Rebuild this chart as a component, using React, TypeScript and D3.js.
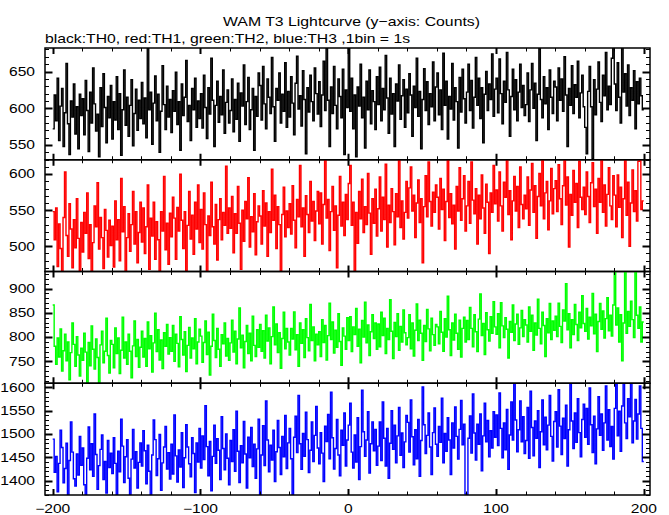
import React from 'react';
import * as d3 from 'd3';

// WAM T3 lightcurves, 1 s bins starting at t = -200 s
const binStart = -200;

const th0 = [
572,618,583,641,556,603,627,548,594,661,579,537,610,588,633,565,602,545,619,590,
613,564,638,597,541,622,580,655,606,569,592,534,628,575,647,601,553,616,587,631,
558,609,584,643,571,620,536,598,652,577,615,562,604,639,549,593,626,570,611,586,
635,579,614,560,682,598,622,551,607,644,583,619,540,596,658,605,571,630,588,612,
567,624,596,649,578,609,543,633,590,615,665,582,604,556,627,598,641,574,610,586,
620,573,645,601,559,628,592,668,611,548,604,637,581,616,591,652,566,608,625,580,
597,640,568,612,585,634,555,621,603,659,578,609,642,571,598,627,543,616,589,648,
631,584,657,606,572,640,615,593,669,602,555,627,611,648,580,619,596,662,574,623,
588,643,607,564,634,671,599,617,576,651,612,538,628,595,645,609,583,655,620,592,
636,575,618,664,597,682,611,548,629,593,657,604,572,640,616,587,653,537,625,601,
690,596,641,572,618,534,629,603,660,587,615,546,637,598,652,579,624,609,571,643,
605,656,583,627,598,672,614,566,641,592,620,548,633,610,659,585,617,639,574,626,
594,647,618,562,630,601,668,589,623,545,612,654,597,636,578,620,602,663,583,629,
648,591,625,571,675,604,637,558,616,599,661,584,628,609,546,642,595,653,613,580,
622,660,597,638,573,615,669,604,641,586,628,553,619,650,597,633,612,674,589,626,
641,594,667,620,579,637,608,676,625,562,616,653,598,639,583,622,660,601,631,590,
605,648,582,625,661,600,634,556,619,681,612,587,643,606,628,571,652,615,593,637,
629,583,655,611,640,596,670,618,548,627,604,658,593,632,615,664,587,621,645,602,
574,538,623,657,602,531,639,591,626,663,608,582,645,617,676,598,630,605,668,684,
633,597,662,615,580,688,622,647,603,659,590,628,611,651,572,636,606,641,617,598
];

const th1 = [
548,509,553,472,531,497,462,540,603,515,486,559,524,470,537,498,566,511,458,533,
492,547,518,574,483,530,461,505,556,527,588,496,540,512,469,551,522,485,536,501,
528,471,563,509,537,480,594,520,555,464,512,545,493,530,576,503,548,477,519,561,
506,553,490,527,585,468,539,514,561,482,534,509,457,548,521,597,495,532,475,546,
513,568,539,482,554,521,600,536,497,548,466,529,576,510,543,489,561,524,585,505,
551,496,574,530,460,542,515,589,527,503,558,481,537,566,509,547,529,611,518,553,
525,569,491,545,518,583,532,468,550,507,562,538,595,499,541,520,573,488,534,556,
542,503,577,528,560,486,548,519,607,536,571,497,555,530,465,544,582,513,549,526,
559,517,584,536,498,565,541,612,527,553,486,570,544,519,590,535,562,508,549,576,
531,574,503,558,620,539,565,494,548,583,522,556,470,543,597,528,561,515,572,537,
587,612,529,561,461,547,504,576,538,593,519,555,530,601,546,489,566,532,579,514,
552,596,521,568,537,614,499,557,533,580,548,502,573,541,619,526,563,510,547,590,
539,581,610,549,571,512,560,592,533,566,477,555,598,541,617,562,528,575,547,585,
568,524,594,551,579,508,562,620,540,573,531,557,496,583,549,609,536,566,598,521,
556,590,532,617,564,545,580,503,571,538,599,553,518,586,561,490,574,547,612,559,
578,535,603,556,521,589,568,622,544,577,509,563,597,549,583,526,610,558,538,571,
552,596,529,578,615,547,584,511,569,601,556,620,538,574,590,523,563,608,545,580,
591,548,613,566,530,584,620,557,596,499,572,543,605,561,587,526,618,568,551,582,
544,603,569,533,588,616,555,579,518,594,561,621,547,585,528,572,609,556,537,598,
571,527,599,554,582,512,566,620,543,589,500,560,606,548,577,535,618,625,551,563
];

const th2 = [
866,781,744,798,759,817,730,772,806,751,790,712,768,829,785,740,801,763,720,777,
752,808,769,703,789,741,823,775,734,796,758,705,784,812,747,771,839,762,726,793,
785,737,819,766,798,725,773,841,757,790,744,806,771,716,782,833,760,795,738,779,
812,759,797,740,831,776,803,728,788,849,770,815,753,794,735,809,781,826,765,799,
771,824,750,806,787,739,842,795,763,811,729,783,820,757,798,776,838,745,790,816,
802,748,789,833,764,810,722,781,847,793,758,818,775,740,805,786,829,761,797,752,
788,835,769,812,745,796,860,778,804,737,791,824,766,808,751,843,783,760,815,779,
826,771,813,757,845,792,819,745,801,862,784,827,768,809,736,797,851,776,818,790,
763,818,796,852,774,805,740,829,787,815,758,838,799,772,867,793,821,751,806,784,
811,760,836,789,824,753,803,870,795,831,767,814,779,848,791,742,819,802,775,840,
793,842,770,821,805,859,781,816,747,834,800,872,788,825,762,811,846,797,829,775,
827,780,851,803,839,766,818,795,877,812,756,830,801,848,773,822,790,856,809,784,
799,846,776,829,761,814,868,793,835,808,752,824,791,857,817,772,839,805,783,826,
821,786,853,810,771,838,800,884,815,762,829,794,847,808,775,835,759,818,841,790,
834,795,861,818,780,846,811,770,837,889,803,828,764,850,815,792,842,808,873,821,
806,848,778,871,823,799,840,816,757,832,810,866,793,827,847,785,819,855,801,836,
825,790,862,812,845,773,829,804,878,818,786,851,824,760,838,809,869,795,833,814,
843,801,870,822,789,856,833,910,815,848,778,836,805,867,826,793,851,819,885,828,
812,859,796,841,823,890,807,847,770,832,869,816,854,798,838,881,813,845,802,866,
938,825,860,790,846,751,829,940,808,853,822,874,836,799,936,845,818,862,790,831
];

const th3 = [
1489,1418,1452,1376,1437,1508,1471,1395,1426,1480,1366,1443,1526,1461,1404,1388,1457,1412,1495,1433,
1470,1391,1362,1448,1515,1423,1479,1409,1543,1456,1381,1432,1467,1498,1402,1441,1373,1486,1428,1459,
1415,1492,1437,1358,1463,1419,1532,1474,1396,1451,1488,1405,1369,1446,1510,1427,1462,1384,1439,1481,
1431,1507,1464,1393,1476,1420,1369,1455,1530,1488,1411,1447,1499,1379,1438,1472,1516,1425,1460,1403,
1478,1414,1541,1453,1397,1466,1429,1503,1385,1449,1520,1472,1436,1408,1492,1458,1374,1481,1440,1512,
1427,1496,1445,1561,1473,1410,1484,1378,1452,1519,1437,1490,1465,1402,1537,1469,1423,1500,1448,1391,
1486,1441,1509,1420,1549,1463,1396,1475,1438,1527,1457,1384,1493,1449,1514,1430,1478,1405,1468,1532,
1363,1455,1518,1432,1571,1487,1419,1476,1444,1508,1398,1462,1529,1471,1413,1495,1451,1540,1426,1481,
1512,1447,1366,1493,1538,1460,1583,1479,1424,1501,1452,1547,1488,1417,1465,1526,1441,1497,1559,1470,
1436,1503,1459,1398,1517,1484,1542,1447,1590,1492,1425,1469,1531,1455,1410,1508,1476,1545,1431,1487,
1519,1566,1461,1427,1498,1440,1535,1402,1473,1594,1505,1452,1487,1548,1416,1479,1526,1464,1510,1433,
1474,1526,1443,1569,1491,1431,1512,1405,1480,1550,1467,1519,1438,1496,1557,1454,1502,1428,1483,1540,
1525,1461,1573,1494,1434,1509,1447,1531,1409,1486,1601,1520,1458,1497,1545,1472,1413,1503,1556,1478,
1452,1516,1482,1577,1438,1501,1463,1535,1487,1413,1524,1470,1558,1495,1446,1510,1572,1477,1521,1371,
1365,1491,1539,1459,1586,1502,1444,1521,1478,1543,1421,1496,1566,1483,1529,1451,1507,1470,1548,1493,
1541,1475,1588,1512,1449,1524,1466,1553,1424,1498,1569,1487,1611,1530,1462,1509,1571,1483,1537,1458,
1486,1557,1448,1592,1514,1453,1528,1491,1550,1428,1505,1573,1477,1536,1466,1519,1583,1495,1442,1527,
1548,1472,1595,1517,1456,1534,1490,1562,1431,1509,1612,1528,1469,1545,1482,1576,1503,1451,1531,1564,
1493,1555,1478,1599,1520,1460,1538,1436,1511,1580,1497,1543,1465,1524,1603,1487,1552,1473,1516,1446,
1555,1612,1496,1549,1463,1560,1615,1524,1490,1576,1537,1620,1481,1528,1574,1489,1543,1603,1512,1441
];

const seriesColors = ['#000000', '#ff0000', '#00ff00', '#0000ff'];
const xDomain = [-205.2, 204.2];
const xMajorTicks = [-200, -100, 0, 100, 200];
const xTickLabels = ['\u2212200', '\u2212100', '0', '100', '200'];
const yDomains: [number, number][] = [[530, 682], [465, 620], [705, 935], [1369, 1609]];
const yMajorTicks = [[550, 600, 650], [500, 550, 600], [750, 800, 850, 900], [1400, 1450, 1500, 1550, 1600]];
const titleText = 'WAM T3 Lightcurve (y\u2212axis: Counts)';
const subtitleText = 'black:TH0, red:TH1, green:TH2, blue:TH3 ,1bin = 1s';

const W = 669, H = 515;
const left = 45, right = 650, top = 48, bottom = 495;
const FONT = '"Liberation Sans", Arial, Helvetica, sans-serif';

export default function App() {
  const series = [th0, th1, th2, th3];
  const ph = (bottom - top) / 4;
  const x = d3.scaleLinear().domain(xDomain).range([left, right]);
  const xMinor = d3.range(-200, 201, 20);

  return (
    <svg width={W} height={H} style={{ position: 'absolute', left: 0, top: 0, background: '#fff' }}
      xmlns="http://www.w3.org/2000/svg">
      <rect x={0} y={0} width={W} height={H} fill="#fff" />
      <defs>
        {series.map((_, p) => (
          <clipPath id={`clip${p}`} key={p}>
            <rect x={left} y={top + p * ph} width={right - left} height={ph} />
          </clipPath>
        ))}
      </defs>
      <text x={223} y={25.5} fontFamily={FONT} fontSize={13} textLength={257} lengthAdjust="spacingAndGlyphs">{titleText}</text>
      <text x={45} y={43} fontFamily={FONT} fontSize={13} textLength={365} lengthAdjust="spacingAndGlyphs">{subtitleText}</text>
      {series.map((data, p) => {
        const y0 = top + p * ph, y1 = y0 + ph;
        const dom = yDomains[p];
        const y = d3.scaleLinear().domain(dom).range([y1, y0]);
        const pts: [number, number][] = data.map((v, i) => [binStart + i, v] as [number, number]);
        pts.push([binStart + data.length, data[data.length - 1]]);
        const line = d3.line<[number, number]>().x(d => x(d[0])).y(d => y(d[1])).curve(d3.curveStepAfter);
        const yMinor = d3.range(Math.ceil(dom[0] / 10) * 10, dom[1], 10);
        return (
          <g key={p}>
            <path d={line(pts) || ''} fill="none" stroke={seriesColors[p]} strokeWidth={1.4} clipPath={`url(#clip${p})`} />
            {yMinor.map(v => {
              const major = v % 50 === 0;
              const len = major ? 7.5 : 4;
              const yy = Math.round(y(v)) + 0.5;
              return (
                <g key={v}>
                  <line x1={left} x2={left + len} y1={yy} y2={yy} stroke="#000" strokeWidth={major ? 2 : 1} />
                  <line x1={right} x2={right - len} y1={yy} y2={yy} stroke="#000" strokeWidth={major ? 2 : 1} />
                </g>
              );
            })}
            {xMinor.map(v => {
              const major = v % 100 === 0;
              const len = major ? 6 : 3.5;
              const xx = Math.round(x(v)) + 0.5;
              return (
                <g key={v}>
                  <line x1={xx} x2={xx} y1={y0} y2={y0 + len} stroke="#000" strokeWidth={major ? 2 : 1} />
                  <line x1={xx} x2={xx} y1={y1} y2={y1 - len} stroke="#000" strokeWidth={major ? 2 : 1} />
                </g>
              );
            })}
            {yMajorTicks[p].map(v => (
              <text key={v} transform={`translate(35,${y(v) + 4.3}) scale(1.3,1)`} textAnchor="end"
                fontFamily={FONT} fontSize={12}>{String(v)}</text>
            ))}
            <rect x={left} y={y0} width={right - left} height={ph} fill="none" stroke="#000" strokeWidth={1.5} />
          </g>
        );
      })}
      {xMajorTicks.map((v, i) => (
        <text key={v} transform={`translate(${x(v)},513) scale(1.3,1)`} textAnchor="middle"
          fontFamily={FONT} fontSize={12}>{xTickLabels[i]}</text>
      ))}
    </svg>
  );
}
